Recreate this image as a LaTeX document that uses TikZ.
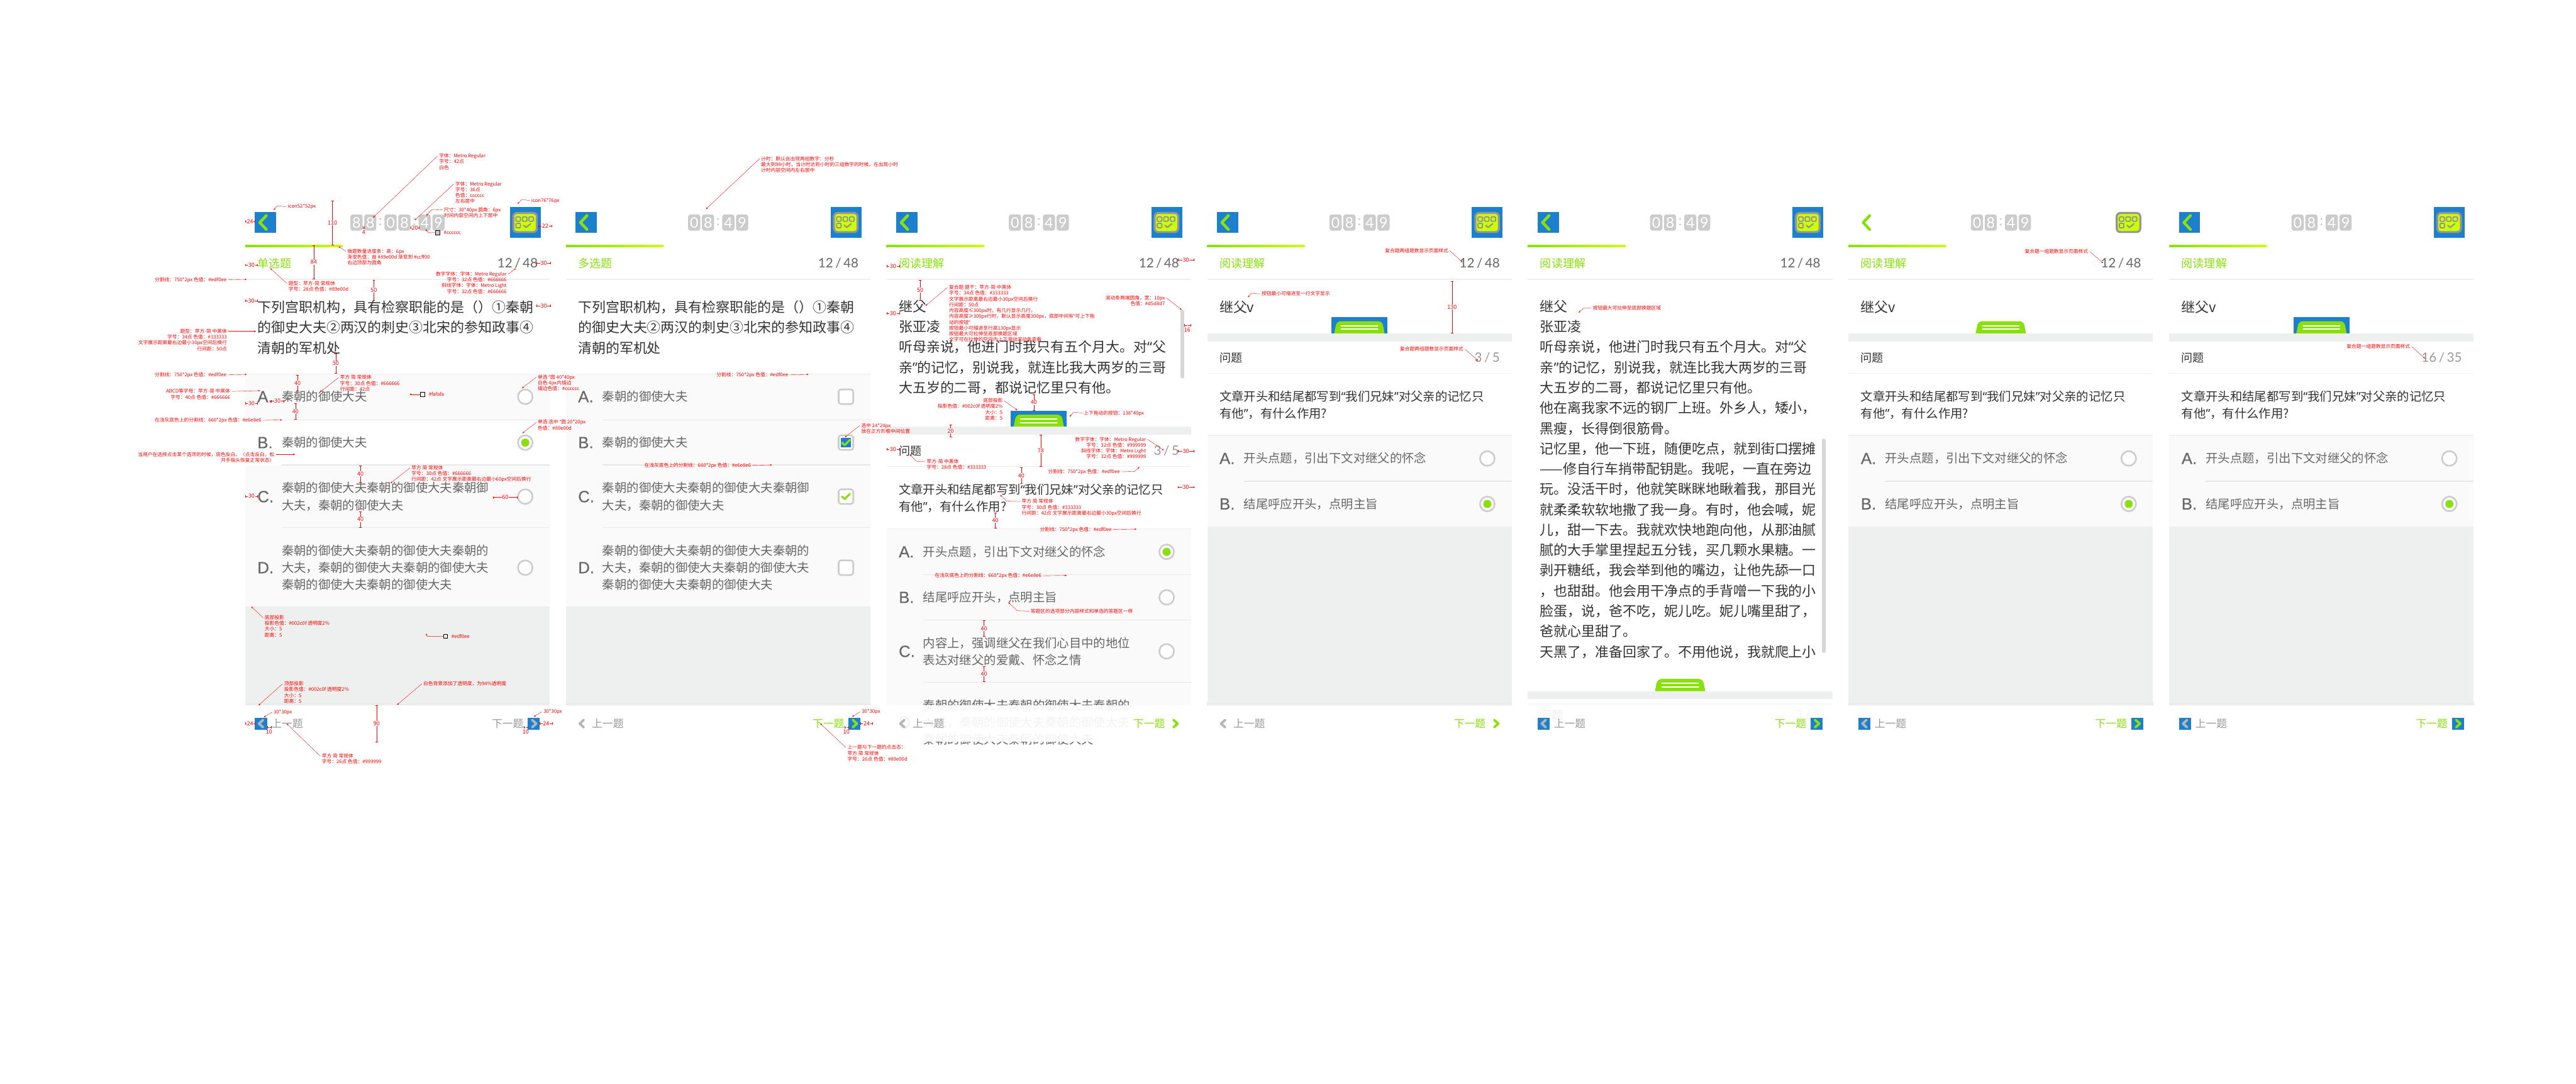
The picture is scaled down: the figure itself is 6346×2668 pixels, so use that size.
\documentclass[tikz,border=0pt]{standalone}
\usepackage{fontspec}
\setmainfont{Noto Sans CJK SC}
\newfontfamily\metrofont{Lato}
\newfontfamily\letterfont[FakeBold=0.3]{Liberation Sans}
\newfontfamily\quotefont{Noto Sans}
\usetikzlibrary{positioning, arrows.meta}

\definecolor{appgreen}{HTML}{89E00D}
\definecolor{applime}{HTML}{CCFF00}
\definecolor{iconblue}{HTML}{1C80CF}
\definecolor{linegray}{HTML}{EDF0EE}
\definecolor{panelgray}{HTML}{EDF0EE}
\definecolor{panelshade}{HTML}{E6EAE8}
\definecolor{optgray}{HTML}{FAFAFA}
\definecolor{optline}{HTML}{E6E8E6}
\definecolor{boxgray}{HTML}{CCCCCC}
\definecolor{icongray}{HTML}{959595}
\definecolor{chevgray}{HTML}{B5B5B5}
\definecolor{barcolor}{HTML}{D5D8D7}
\definecolor{inkdark}{HTML}{333333}
\definecolor{inkmid}{HTML}{666666}
\definecolor{inklight}{HTML}{999999}

\lineskiplimit=-100pt
\newcommand{\fs}[2]{\fontsize{#1}{#2}\selectfont}
\newcommand{\oq}{{\quotefont “}}
\newcommand{\cq}{{\quotefont ”}}
\newcommand{\zc}{^^^^ff0c}
\newcommand{\zd}{^^^^ff1a}
\newcommand{\zl}{^^^^ff08}
\newcommand{\zr}{^^^^ff09}

% screen parts, all in the coordinates of one screen
\newcommand{\hairline}[3]{\draw[line width=2pt,#3] (#1,#2) -- (750,#2);}
\newcommand{\bluemarks}{
    \fill[iconblue] (24,522) rectangle (76,574);
    \fill[iconblue] (652,510) rectangle (728,586);
}
\newcommand{\screenhead}[2]{
    \draw[chevron, appgreen, line width=7pt] (52,531) -- (36,548) -- (52,565);
    \draw[line width=5pt, draw=icongray, fill=applime, rounded corners=9pt] (660.5,524.5) rectangle (718.5,571.5);
    \foreach \sqx in {667,683,699} {
        \draw[line width=3pt, draw=icongray, rounded corners=2pt] (\sqx,534) rectangle ++(11,11);
    }
    \draw[line width=3pt, draw=icongray, rounded corners=2pt] (667,550) rectangle ++(11,11);
    \draw[chevron, icongray, line width=3.5pt] (686,555) -- (692,560) -- (703,551);
    \shade[left color=appgreen, right color=applime] (0,603) [rounded corners=3pt] -- (242,603) -- (242,609) [sharp corners] -- (0,609) -- cycle;
    \node[pagetitle] (#1-title) at (30,648) {#2};
    \hairline{0}{688}{linegray}
}
\newcommand{\clockgroup}[4]{
    \node[digitbox] (#1a) at (#2,548) {#3};
    \node[digitbox] (#1b) at ({#2+34},548) {#4};
}
\newcommand{\shortclock}[1]{
    \clockgroup{#1-m}{301}{0}{8}
    \node[clockcolon] (#1-colon) at (375,546) {:};
    \clockgroup{#1-s}{385}{4}{9}
}
\newcommand{\countlabel}[4]{\node[counter, text=#4] (#1) at (721,#2) {#3};}
\newcommand{\optrow}[4]{
    \node[optletter] (#1-key) at (30,#3) {#2};
    \node[opttext] (#1-text) at (90,#3) {#4};
}
\newcommand{\radiooff}[2]{\node[radio] (#1) at (690,#2) {};}
\newcommand{\radioon}[2]{
    \node[radio] (#1) at (690,#2) {};
    \node[radiodot] (#1-dot) at (#1.center) {};
}
\newcommand{\tickmark}[1]{\draw[chevron, appgreen, line width=5pt] (680,#1) -- (687,{#1+6}) -- (700,{#1-7});}
\newcommand{\panelfill}[1]{
    \fill[panelgray] (0,#1) rectangle (750,1737);
    \shade[top color=panelgray, bottom color=panelshade] (0,1727) rectangle (750,1737);
}
\newcommand{\dragbtn}[1]{
    \fill[appgreen] (313,#1) [rounded corners=10pt] -- (319,{#1-30}) -- (431,{#1-30}) [sharp corners] -- (437,#1) -- cycle;
    \draw[line width=3pt, white, line cap=round] (330,{#1-19}) -- (420,{#1-19});
    \draw[line width=3pt, white, line cap=round] (330,{#1-10}) -- (420,{#1-10});
}
\newcommand{\footerbar}[5]{
    \fill[white, opacity=0.92] (0,1737) rectangle (750,1827);
    \path[fill=#2] (24,1767) rectangle (54,1797);
    \path[fill=#3] (696,1767) rectangle (726,1797);
    \draw[chevron, chevgray, line width=6pt] (44,1773) -- (34,1782) -- (44,1791);
    \draw[chevron, #5, line width=6pt] (707,1773) -- (717,1782) -- (707,1791);
    \node[footlabel, text=inklight, anchor=west] (#1-prev) at (64,1782) {上一题};
    \node[footlabel, text=#4, anchor=east] (#1-next) at (686,1782) {下一题};
}
\newcommand{\compactbody}[2]{
    \node[stem] (#1-stem) at (30,756) {继父v};
    \path[fill=#2] (306,781) rectangle (444,821);
    \dragbtn{821}
    \fill[panelgray] (0,821) rectangle (750,841);
    \node[subhead] (#1-sub) at (30,881) {问题};
    \hairline{0}{920}{linegray}
    \node[asktext] (#1-ask) at (30,998) {文章开头和结尾都写到\oq{}我们兄妹\cq{}对父亲的记忆只\\有他\cq{}\zc{}有什么作用?};
    \fill[optgray] (0,1073) rectangle (750,1296);
    \hairline{0}{1072}{linegray}
    \optrow{#1-a}{A.}{1129}{开头点题\zc{}引出下文对继父的怀念}
    \radiooff{#1-ar}{1129}
    \hairline{90}{1185}{optline}
    \optrow{#1-b}{B.}{1241}{结尾呼应开头\zc{}点明主旨}
    \radioon{#1-br}{1241}
    \panelfill{1296}
}
% marks and notes, in the coordinates of the whole sheet
\newcommand{\vdim}[5]{
    \coordinate (#1a) at (#2,#3);
    \coordinate (#1b) at (#2,#4);
    \draw[dimline] (#1a) -- node[dimnum] (#1n) {#5} (#1b);
}
\newcommand{\hdim}[5]{
    \coordinate (#1a) at (#3,#2);
    \coordinate (#1b) at (#4,#2);
    \draw[dimline] (#1a) -- node[dimnum] (#1n) {#5} (#1b);
}
\newcommand{\callout}[6][]{
    \node[note,#1] (#2) at (#3) {#4};
    \coordinate (#2tip) at (#6);
    \draw[pointer] ([yshift=-6pt]#2.#5) -- (#2tip);
}
\newcommand{\calloutbent}[7][]{
    \node[note,#1] (#2) at (#3) {#4};
    \coordinate (#2bend) at (#6);
    \coordinate (#2tip) at (#7);
    \draw[pointer] ([yshift=-6pt]#2.#5) -- (#2bend) -- (#2tip);
}
\newcommand{\swatch}[6]{
    \node[swatchbox, fill=#3] (#1) at (#2) {};
    \node[note, anchor=west] (#1label) at ([xshift=6pt]#1.east) {#4};
    \coordinate (#1bend) at (#5);
    \coordinate (#1tip) at (#6);
    \draw[pointer] (#1.west) -- (#1bend) -- (#1tip);
}

\begin{document}
\begin{tikzpicture}[
    x=1pt, y=-1pt,
    chevron/.style={line cap=round, line join=round},
    pagetitle/.style={anchor=west, inner sep=0pt, text=appgreen, font=\fs{28}{28}},
    stem/.style={anchor=west, inner sep=0pt, align=left, text=inkdark, font=\fs{34}{50}},
    subhead/.style={anchor=west, inner sep=0pt, text=inkdark, font=\fs{28}{28}},
    asktext/.style={anchor=west, inner sep=0pt, align=left, text=inkdark, font=\fs{30}{42}},
    optletter/.style={anchor=west, inner sep=0pt, text=inkmid, font=\letterfont\fs{40}{40}},
    opttext/.style={anchor=west, inner sep=0pt, align=left, text=inkmid, font=\fs{30}{42}},
    footlabel/.style={inner sep=0pt, font=\fs{26}{26}},
    counter/.style={anchor=east, inner sep=0pt, font=\metrofont\fs{32}{32}},
    digitbox/.style={anchor=west, fill=boxgray, rounded corners=6pt, minimum width=30pt, minimum height=40pt, inner sep=0pt, text=white, font=\metrofont\fs{36}{36}},
    clockcolon/.style={inner sep=0pt, text=boxgray, font=\metrofont\fs{36}{36}},
    radio/.style={circle, draw=boxgray, line width=4pt, fill=white, minimum size=36pt, inner sep=0pt},
    radiodot/.style={circle, fill=appgreen, minimum size=20pt, inner sep=0pt},
    tickbox/.style={rectangle, rounded corners=6pt, draw=boxgray, line width=4pt, fill=white, minimum size=36pt, inner sep=0pt},
    note/.style={anchor=north west, inner sep=0pt, outer xsep=4pt, outer ysep=0pt, align=left, text=red, font=\fs{12}{14.3}},
    pointer/.style={red, line width=.6pt, -{Stealth[length=5pt, width=4pt]}},
    dimline/.style={red, line width=.7pt, {Bar[width=6pt]}-{Bar[width=6pt]}},
    dimnum/.style={fill=white, inner sep=1pt, text=red, font=\fs{14}{14}},
    swatchbox/.style={draw=black, line width=.7pt, minimum width=10pt, minimum height=10pt, inner sep=0pt}
]
\useasboundingbox (0,0) rectangle (6346,2668);
\fill[white] (0,0) rectangle (6346,2668);

% first screen
\begin{scope}[shift={(604,0)}]
\bluemarks
\screenhead{s1}{单选题}
\clockgroup{s1-h}{259}{8}{8}
\node[clockcolon] (s1-colon1) at (333,546) {:};
\clockgroup{s1-m}{343}{0}{8}
\node[clockcolon] (s1-colon2) at (417,546) {:};
\clockgroup{s1-s}{427}{4}{9}
\countlabel{s1-count}{648}{12\,/\,48}{inkmid}
\node[stem] (s1-stem) at (30,806) {下列宫职机构\zc{}具有检察职能的是\zl\zr{}①秦朝\\的御史大夫②两汉的刺史③北宋的参知政事④\\清朝的军机处};
\fill[optgray] (0,922) rectangle (750,1494);
\fill[white] (0,1035) rectangle (750,1145);
\hairline{0}{921}{linegray}
\optrow{s1-a}{A.}{977}{秦朝的御使大夫}
\radiooff{s1-ar}{977}
\hairline{90}{1034}{optline}
\optrow{s1-b}{B.}{1090}{秦朝的御使大夫}
\radioon{s1-br}{1090}
\hairline{90}{1145}{optline}
\optrow{s1-c}{C.}{1223}{秦朝的御使大夫秦朝的御使大夫秦朝御\\大夫\zc{}秦朝的御使大夫}
\radiooff{s1-cr}{1223}
\hairline{90}{1299}{optline}
\optrow{s1-d}{D.}{1398}{秦朝的御使大夫秦朝的御使大夫秦朝的\\大夫\zc{}秦朝的御使大夫秦朝的御使大夫\\秦朝的御使大夫秦朝的御使大夫}
\radiooff{s1-dr}{1398}
\panelfill{1494}
\footerbar{s1}{iconblue}{iconblue}{inklight}{chevgray}
\end{scope}

% second screen
\begin{scope}[shift={(1394,0)}]
\bluemarks
\screenhead{s2}{多选题}
\shortclock{s2}
\countlabel{s2-count}{648}{12\,/\,48}{inkmid}
\node[stem] (s2-stem) at (30,806) {下列宫职机构\zc{}具有检察职能的是\zl\zr{}①秦朝\\的御史大夫②两汉的刺史③北宋的参知政事④\\清朝的军机处};
\fill[optgray] (0,922) rectangle (750,1494);
\hairline{0}{921}{linegray}
\optrow{s2-a}{A.}{977}{秦朝的御使大夫}
\node[tickbox] (s2-ar) at (690,977) {};
\hairline{90}{1034}{optline}
\optrow{s2-b}{B.}{1090}{秦朝的御使大夫}
\node[tickbox] (s2-br) at (690,1090) {};
\fill[iconblue] (678,1078) rectangle (702,1102);
\tickmark{1090}
\hairline{90}{1145}{optline}
\optrow{s2-c}{C.}{1223}{秦朝的御使大夫秦朝的御使大夫秦朝御\\大夫\zc{}秦朝的御使大夫}
\node[tickbox] (s2-cr) at (690,1223) {};
\tickmark{1223}
\hairline{90}{1299}{optline}
\optrow{s2-d}{D.}{1398}{秦朝的御使大夫秦朝的御使大夫秦朝的\\大夫\zc{}秦朝的御使大夫秦朝的御使大夫\\秦朝的御使大夫秦朝的御使大夫}
\node[tickbox] (s2-dr) at (690,1398) {};
\panelfill{1494}
\footerbar{s2}{none}{iconblue}{appgreen}{appgreen}
\end{scope}

% third screen
\begin{scope}[shift={(2184,0)}]
\bluemarks
\screenhead{s3}{阅读理解}
\shortclock{s3}
\countlabel{s3-count}{648}{12\,/\,48}{inkmid}
\node[stem] (s3-stem) at (30,855) {继父\\张亚凌\\听母亲说\zc{}他进门时我只有五个月大。对\oq{}父\\亲\cq{}的记忆\zc{}别说我\zc{}就连比我大两岁的三哥\\大五岁的二哥\zc{}都说记忆里只有他。};
\draw[line width=10pt, barcolor, line cap=round] (729,767) -- (729,927);
\fill[iconblue] (306,1011) rectangle (444,1051);
\dragbtn{1051}
\fill[panelgray] (0,1051) rectangle (750,1070);
\node[subhead] (s3-sub) at (30,1110) {问题};
\countlabel{s3-sub-count}{1110}{3\,/\,5}{inklight}
\hairline{0}{1149}{linegray}
\node[asktext] (s3-ask) at (30,1227) {文章开头和结尾都写到\oq{}我们兄妹\cq{}对父亲的记忆只\\有他\cq{}\zc{}有什么作用?};
\fill[optgray] (0,1303) rectangle (750,1737);
\hairline{0}{1302}{linegray}
\optrow{s3-a}{A.}{1359}{开头点题\zc{}引出下文对继父的怀念}
\radioon{s3-ar}{1359}
\hairline{90}{1415}{optline}
\optrow{s3-b}{B.}{1471}{结尾呼应开头\zc{}点明主旨}
\radiooff{s3-br}{1471}
\hairline{90}{1527}{optline}
\optrow{s3-c}{C.}{1604}{内容上\zc{}强调继父在我们心目中的地位\\表达对继父的爱戴、怀念之情}
\radiooff{s3-cr}{1604}
\hairline{90}{1680}{optline}
\optrow{s3-d}{D.}{1779}{秦朝的御使大夫秦朝的御使大夫秦朝的\\大夫\zc{}秦朝的御使大夫秦朝的御使大夫\\秦朝的御使大夫秦朝的御使大夫}
\radiooff{s3-dr}{1779}
\footerbar{s3}{none}{none}{appgreen}{appgreen}
\end{scope}

% fourth screen
\begin{scope}[shift={(2974,0)}]
\bluemarks
\screenhead{s4}{阅读理解}
\shortclock{s4}
\countlabel{s4-count}{648}{12\,/\,48}{inkmid}
\compactbody{s4}{iconblue}
\countlabel{s4-sub-count}{881}{3\,/\,5}{inklight}
\footerbar{s4}{none}{none}{appgreen}{appgreen}
\end{scope}

% fifth screen
\begin{scope}[shift={(3764,0)}]
\bluemarks
\screenhead{s5}{阅读理解}
\shortclock{s5}
\countlabel{s5-count}{648}{12\,/\,48}{inkmid}
\node[stem] (s5-stem) at (30,1180) {继父\\张亚凌\\听母亲说\zc{}他进门时我只有五个月大。对\oq{}父\\亲\cq{}的记忆\zc{}别说我\zc{}就连比我大两岁的三哥\\大五岁的二哥\zc{}都说记忆里只有他。\\他在离我家不远的钢厂上班。外乡人\zc{}矮小\zc\\黑瘦\zc{}长得倒很筋骨。\\记忆里\zc{}他一下班\zc{}随便吃点\zc{}就到街口摆摊\\——修自行车捎带配钥匙。我呢\zc{}一直在旁边\\玩。没活干时\zc{}他就笑眯眯地瞅着我\zc{}那目光\\就柔柔软软地撒了我一身。有时\zc{}他会喊\zc{}妮\\儿\zc{}甜一下去。我就欢快地跑向他\zc{}从那油腻\\腻的大手掌里捏起五分钱\zc{}买几颗水果糖。一\\剥开糖纸\zc{}我会举到他的嘴边\zc{}让他先舔一口\\\zc{}也甜甜。他会用干净点的手背噌一下我的小\\脸蛋\zc{}说\zc{}爸不吃\zc{}妮儿吃。妮儿嘴里甜了\zc\\爸就心里甜了。\\天黑了\zc{}准备回家了。不用他说\zc{}我就爬上小};
\draw[line width=10pt, barcolor, line cap=round] (729,1085) -- (729,1603);
\dragbtn{1702}
\fill[panelgray] (0,1702) rectangle (750,1722);
\fill[optgray] (0,1731) rectangle (750,1737);
\node[subhead] (s5-sub) at (30,1761) {问题};
\countlabel{s5-sub-count}{1761}{3\,/\,5}{inklight}
\footerbar{s5}{iconblue}{iconblue}{appgreen}{appgreen}
\end{scope}

% sixth screen
\begin{scope}[shift={(4554,0)}]
\screenhead{s6}{阅读理解}
\shortclock{s6}
\countlabel{s6-count}{648}{12\,/\,48}{inkmid}
\compactbody{s6}{none}
\footerbar{s6}{iconblue}{iconblue}{appgreen}{appgreen}
\end{scope}

% seventh screen
\begin{scope}[shift={(5344,0)}]
\bluemarks
\screenhead{s7}{阅读理解}
\shortclock{s7}
\compactbody{s7}{iconblue}
\countlabel{s7-sub-count}{881}{16\,/\,35}{inklight}
\footerbar{s7}{iconblue}{iconblue}{appgreen}{appgreen}
\end{scope}

% notes round the first screen
\callout{nClock}{1078,378}{字体\zd{}Metro  Regular\\字号\zd{}42点\\白色}{north west}{919,536}
\callout{nDigit}{1118,447}{字体\zd{}Metro  Regular\\字号\zd{}36点\\色值\zd{}cccccc\\左右居中}{north west}{1022,542}
\calloutbent{nCell}{1090,511}{尺寸\zd{}30*40px  圆角\zd{}6px\\时间内容空间内上下居中}{north west}{1064,516}{1050,531}
\calloutbent{nIconBig}{1305,488}{icon76*76px}{north west}{1286,491}{1275,502}
\calloutbent{nIconBack}{705,503}{icon52*52px}{north west}{683,507}{674,517}
\swatch{swDigit}{1078,573}{boxgray}{\#cccccc}{1056,573}{1048,565}
\swatch{swOption}{1041,971}{optgray}{\#fafafa}{1011,971}{1009,971}
\swatch{swPanel}{1097,1567}{panelgray}{\#edf0ee}{1052,1567}{1050,1560}
\callout{nBar}{852,613}{做题数量进度条\zd{}高\zd{}6px\\渐变色值\zd{}由 \#89e00d  渐变到 \#ccff00\\右边顶部为圆角}{north west}{834,607}
\callout{nTitle}{707,692}{题型\zd{}苹方-简 常规体\\字号\zd{}28点  色值\zd{}\#89e00d}{north west}{666,661}
\callout[anchor=north east, align=right]{nCount}{1252,669}{数字字体\zd{}字体\zd{}Metro  Regular\\字号\zd{}32点  色值\zd{}\#666666\\斜线字体\zd{}字体\zd{}Metro  Light\\字号\zd{}32点  色值\zd{}\#666666}{north east}{1271,661}
\callout[anchor=north east, align=right]{nRuleA}{562,683}{分割线\zd{}750*2px  色值\zd{}\#edf0ee}{north east}{608,688}
\callout[anchor=north east, align=right]{nStem}{563,810}{题型\zd{}苹方-简 中黑体\\字号\zd{}34点  色值\zd{}\#333333\\文字展示距离最右边最小30px空间后换行\\行间距\zd{}50点}{north east}{631,816}
\callout[anchor=north east, align=right]{nRuleB}{562,917}{分割线\zd{}750*2px  色值\zd{}\#edf0ee}{north east}{608,922}
\callout{nOptA}{834,924}{苹方 简 常规体\\字号\zd{}30点  色值\zd{}\#666666\\行间距\zd{}42点}{north west}{789,965}
\callout[anchor=north east, align=right]{nKey}{571,958}{ABCD等字母\zd{}苹方-简 中黑体\\字号\zd{}40点  色值\zd{}\#666666}{north east}{641,962}
\callout{nRadio}{1321,923}{单选 \oq{}圆 40*40px\\白色  4px内描边\\描边色值\zd{}\#cccccc}{north west}{1286,956}
\callout{nPicked}{1321,1034}{单选 选中 \oq{}圆 20*20px\\色值\zd{}\#89e00d}{north west}{1287,1067}
\callout[anchor=north east, align=right]{nLineA}{648,1029}{在浅灰底色上的分割线\zd{}660*2px  色值\zd{}\#e6e8e6}{north east}{695,1034}
\callout[anchor=north east, align=right]{nPress}{680,1113}{当用户在选择点击某个选项的时候\zc{}底色反白。\zl{}点击反白\zc{}松\\开手指头恢复正常状态\zr}{north east}{727,1119}
\callout{nOptC}{1010,1146}{苹方 简 常规体\\字号\zd{}30点  色值\zd{}\#666666\\行间距\zd{}42点  文字展示距离最右边最小60px空间后换行}{north west}{962,1190}
\callout{nShadowB}{648,1515}{底部投影\\投影色值\zd{}\#002c0f  透明度2\%\\大小\zd{}5\\距离\zd{}5}{north west}{619,1494}
\callout{nShadowT}{696,1678}{顶部投影\\投影色值\zd{}\#002c0f  透明度2\%\\大小\zd{}5\\距离\zd{}5}{north west}{637,1737}
\callout{nWhite}{1039,1678}{白色背景添加了透明度\zc{}为94\%透明度}{north west}{978,1736}
\callout{nPrev}{670,1748}{30*30px}{north west}{650,1766}
\callout{nNext}{1335,1747}{30*30px}{north west}{1315,1765}
\callout{nFoot}{789,1856}{苹方 简 常规体\\字号\zd{}26点  色值\zd{}\#999999}{north west}{706,1782}

\hdim{dBack}{546}{604}{628}{24}
\vdim{dHead}{819}{494}{604}{110}
\hdim{dGap}{561}{894}{898}{}
\node[dimnum, fill=none] (dGapNum) at (896,572) {4};
\hdim{dGroup}{561}{1012}{1032}{20}
\hdim{dIcon}{557}{1326}{1360}{22}
\vdim{dTitle}{773}{604}{687}{84}
\hdim{dTitleL}{653}{604}{635}{30}
\hdim{dCountR}{648}{1322}{1357}{30}
\vdim{dStemT}{921}{690}{739}{50}
\hdim{dStemL}{741}{604}{634}{30}
\hdim{dStemR}{753}{1322}{1357}{30}
\vdim{dStemB}{827}{870}{920}{50}
\vdim{dOptA}{733}{924}{963}{40}
\hdim{dKey}{993}{604}{635}{30}
\hdim{dKeyGap}{988}{667}{700}{30}
\vdim{dOptB}{728}{993}{1033}{40}
\vdim{dOptCa}{888}{1147}{1187}{40}
\vdim{dOptCb}{888}{1259}{1299}{40}
\hdim{dKeyC}{1222}{604}{635}{30}
\hdim{dSixty}{1225}{1215}{1274}{60}
\vdim{dFoot}{928}{1737}{1827}{90}
\hdim{dFootL}{1782}{604}{628}{24}
\hdim{dFootR}{1782}{1330}{1361}{24}
\hdim{dPrev}{1791}{658}{669}{}
\node[dimnum, fill=none] (dPrevNum) at (663,1802) {10};
\hdim{dNext}{1791}{1290}{1300}{}
\node[dimnum, fill=none] (dNextNum) at (1295,1802) {10};

% notes round the second screen
\callout{nTimer}{1871,385}{计时\zd{}默认会出现两组数字\zd{}分秒\\最大到99小时\zc{}当计时达到小时的三组数字的时候\zc{}在出现小时\\计时内容空间内左右居中}{north west}{1739,515}
\callout[anchor=north east, align=right]{nRuleC}{1946,917}{分割线\zd{}750*2px  色值\zd{}\#edf0ee}{north east}{1992,922}
\callout{nTick}{2118,1042}{选中 24*24px\\放在正方形框中间位置}{north west}{2081,1077}
\callout[anchor=north east, align=right]{nLineB}{1854,1140}{在浅灰底色上的分割线\zd{}660*2px  色值\zd{}\#e6e8e6}{north east}{1902,1145}
\callout{nNextB}{2119,1747}{30*30px}{north west}{2099,1765}
\callout{nTap}{2084,1835}{上一题与下一题的点击态\zd\\苹方 简 常规体\\字号\zd{}26点  色值\zd{}\#89e00d}{north west}{2021,1782}
\hdim{dFootS}{1782}{2120}{2150}{24}
\hdim{dNextS}{1791}{2081}{2090}{}
\node[dimnum, fill=none] (dNextSNum) at (2085,1802) {10};

% notes round the third screen
\callout{nPassage}{2334,702}{复合题 题干\zd{}苹方-简 中黑体\\字号\zd{}34点  色值\zd{}\#333333\\文字展示距离最右边最小30px空间后换行\\行间距\zd{}50点\\内容高度≤300px时\zc{}有几行显示几行\zc\\内容高度≥300px行时\zc{}默认显示高度300px\zc{}底部中间有\oq{}可上下拖\\动的按钮\cq{}\\按钮最小可缩进至行高130px显示\\按钮最大可拉伸至底部换题区域\\文字可在拉伸的空间内上下滑动滚动条查看}{north west}{2280,753}
\callout[anchor=north east, align=right]{nScroll}{2874,728}{滚动条两端圆角\zc{}宽\zd{}10px\\色值\zd{}\#d5d8d7}{north east}{2911,763}
\callout[anchor=north east, align=right]{nDragShadow}{2474,981}{底部投影\\投影色值\zd{}\#002c0f  透明度2\%\\大小\zd{}5\\距离\zd{}5}{north east}{2506,1010}
\calloutbent{nDrag}{2666,1011}{上下拖动的按钮\zd{}138*40px}{north west}{2645,1015}{2635,1026}
\callout[anchor=north east, align=right]{nCountB}{2827,1076}{数字字体\zd{}字体\zd{}Metro  Regular\\字号\zd{}32点  色值\zd{}\#999999\\斜线字体\zd{}字体\zd{}Metro  Light\\字号\zd{}32点  色值\zd{}\#999999}{north east}{2867,1109}
\calloutbent{nSub}{2279,1131}{苹方-简 中黑体\\字号\zd{}28点  色值\zd{}\#333333}{north west}{2258,1136}{2241,1119}
\calloutbent{nRuleD}{2578,1156}{分割线\zd{}750*2px  色值\zd{}\#edf0ee}{north east}{2795,1161}{2807,1150}
\calloutbent{nAsk}{2513,1229}{苹方 简 常规体\\字号\zd{}30点  色值\zd{}\#333333\\行间距\zd{}42点  文字展示距离最右边最小30px空间后换行}{north west}{2480,1234}{2464,1219}
\callout{nRuleE}{2558,1298}{分割线\zd{}750*2px  色值\zd{}\#edf0ee}{north east}{2800,1303}
\callout{nLineC}{2299,1412}{在浅灰底色上的分割线\zd{}660*2px  色值\zd{}\#e6e8e6}{north east}{2628,1417}
\calloutbent{nSame}{2535,1499}{答题区的选项部分内容样式和单选的答题区一样}{north west}{2506,1504}{2484,1483}
\vdim{dPassT}{2267}{689}{739}{50}
\hdim{dPassTL}{656}{2184}{2216}{30}
\hdim{dPassTR}{640}{2902}{2941}{30}
\hdim{dPassL}{772}{2184}{2216}{30}
\hdim{dBar}{801}{2917}{2934}{}
\node[dimnum, fill=none] (dBarNum) at (2925,812) {16};
\vdim{dPassB}{2547}{971}{1011}{40}
\vdim{dBand}{2342}{1046}{1076}{20}
\vdim{dSub}{2564}{1071}{1148}{78}
\hdim{dSubR}{1111}{2902}{2941}{30}
\hdim{dSubL}{1106}{2184}{2216}{30}
\vdim{dAskT}{2516}{1151}{1191}{40}
\hdim{dAskR}{1200}{2902}{2941}{30}
\vdim{dAskB}{2452}{1262}{1300}{40}
\vdim{dRowT}{2424}{1528}{1567}{40}
\vdim{dRowB}{2424}{1640}{1678}{40}

% notes on the other screens
\calloutbent{nMinBtn}{3104,718}{按钮最小可缩进至一行文字显示}{north west}{3083,722}{3074,732}
\callout{nTwoA}{3408,612}{复合题两组题数显示页面样式}{north east}{3603,646}
\callout{nTwoB}{3445,854}{复合题两组题数显示页面样式}{north east}{3641,888}
\vdim{dMinBtn}{3577}{692}{820}{130}
\calloutbent{nMaxBtn}{3920,753}{按钮最大可拉伸至底部换题区域}{north west}{3901,759}{3889,770}
\callout{nOneA}{4984,613}{复合题一组题数显示页面样式}{north east}{5181,648}
\callout{nOneB}{5777,847}{复合题一组题数显示页面样式}{north east}{5974,883}
\end{tikzpicture}
\end{document}
